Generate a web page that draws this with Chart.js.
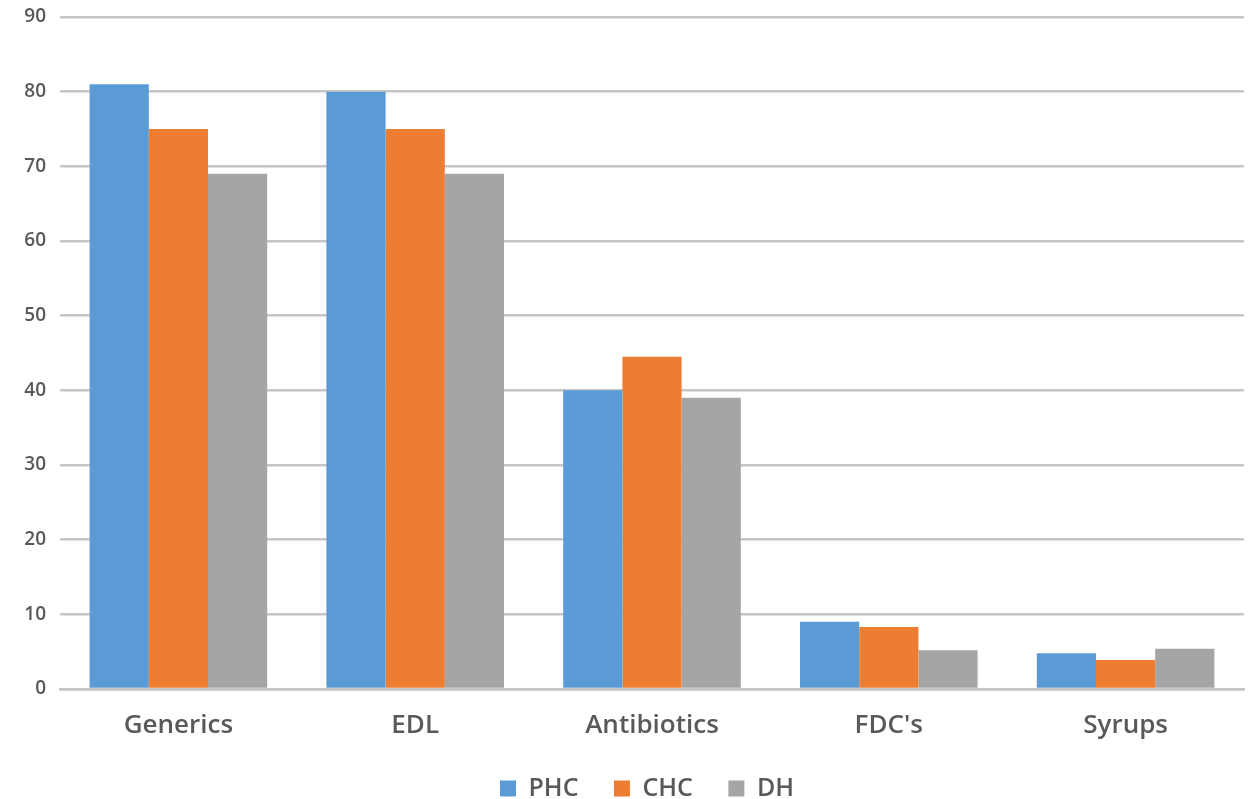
<!DOCTYPE html>
<html>
<head>
<meta charset="utf-8">
<script src="https://cdn.jsdelivr.net/npm/chart.js@4"></script>
<style>
  html, body { margin: 0; padding: 0; background: #ffffff; overflow: hidden; }
  #wrap { width: 1258px; height: 799px; overflow: hidden; }
  #c { display: block; }
</style>
</head>
<body>
<div id="wrap"><canvas id="c" width="1258" height="811"></canvas></div>
<script>
// Prescribing indicators by facility level
const categories = ["Generics", "EDL", "Antibiotics", "FDC's", "Syrups"];
const phc = [81, 80, 40, 9, 4.8];
const chc = [75, 75, 44.5, 8.3, 3.9];
const dh  = [69, 69, 39, 5.2, 5.4];
const yTicks = [0, 10, 20, 30, 40, 50, 60, 70, 80, 90];

const FONT = "'Open Sans', 'DejaVu Sans', sans-serif";
const TEXT = '#595959';
const GRID = '#c6c6c6';

// nudges the centred legend row to the right
const legendShift = {
  id: 'legendShift',
  afterLayout(chart) {
    const lg = chart.legend;
    if (lg) { lg.left += 25; lg.right += 25; }
  }
};

new Chart(document.getElementById('c'), {
  type: 'bar',
  data: {
    labels: categories,
    datasets: [
      { label: 'PHC', data: phc, backgroundColor: '#5B9BD5' },
      { label: 'CHC', data: chc, backgroundColor: '#ED7D31' },
      { label: 'DH',  data: dh,  backgroundColor: '#A5A5A5' }
    ]
  },
  plugins: [legendShift],
  options: {
    responsive: false,
    animation: false,
    devicePixelRatio: 1,
    layout: { padding: { top: 17, right: 14, left: 0, bottom: 0 } },
    datasets: { bar: { categoryPercentage: 0.75, barPercentage: 1.0 } },
    plugins: {
      tooltip: { enabled: false },
      legend: {
        position: 'bottom',
        labels: {
          font: { family: FONT, size: 25, weight: '600' },
          color: TEXT,
          boxWidth: 16,
          boxHeight: 16,
          padding: 3,
          // wider spacing between legend entries
          generateLabels(chart) {
            const items = Chart.defaults.plugins.legend.labels.generateLabels(chart);
            items.forEach((it, i) => {
              if (i < items.length - 1) it.text = it.text + '     ';
            });
            return items;
          }
        }
      }
    },
    scales: {
      y: {
        min: 0, max: 90,
        afterBuildTicks: (ax) => { ax.ticks = yTicks.map(v => ({ value: v })); },
        afterFit: (ax) => { ax.width = 60; },
        ticks: { font: { family: FONT, size: 19, weight: '600', lineHeight: 0.2 }, color: TEXT, padding: 14 },
        grid: { color: GRID, lineWidth: 2.5, drawTicks: false },
        border: { display: false }
      },
      x: {
        afterFit: (ax) => { ax.height = 84; },
        ticks: { font: { family: FONT, size: 26, weight: '600' }, color: TEXT, padding: 21 },
        grid: { display: false, drawTicks: false },
        border: { display: true, color: GRID, width: 2.5 }
      }
    }
  }
});
</script>
</body>
</html>
